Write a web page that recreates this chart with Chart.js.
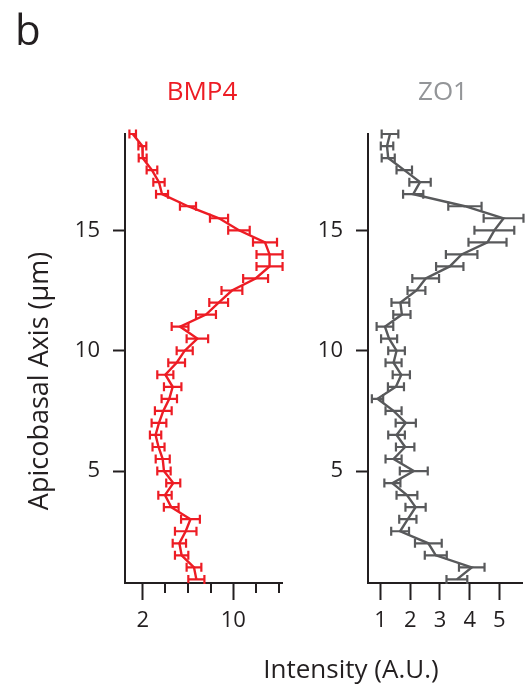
<!DOCTYPE html>
<html><head><meta charset="utf-8">
<script src="https://cdn.jsdelivr.net/npm/chart.js@4/dist/chart.umd.min.js"></script>
<style>
html,body{margin:0;padding:0;background:#fff;width:529px;height:693px;overflow:hidden;font-family:"Open Sans",sans-serif;}
#c1{position:absolute;left:0;top:0;}
#c2{position:absolute;left:300px;top:0;}
.t{position:absolute;line-height:1;white-space:nowrap;color:#231f20;}
</style></head><body>
<canvas id="c1" width="300" height="693"></canvas>
<canvas id="c2" width="229" height="693"></canvas>
<div class="t" style="left:15px;top:8px;font-size:42px;">b</div>
<div class="t" style="left:202px;top:77px;font-size:26px;color:#ED1C24;transform:translateX(-50%);">BMP4</div>
<div class="t" style="left:443px;top:77px;font-size:26px;color:#939598;transform:translateX(-50%);">ZO1</div>
<div class="t" style="left:351px;top:655px;font-size:26px;transform:translateX(-50%);">Intensity (A.U.)</div>
<div class="t" id="ytitle" style="left:37px;top:381px;font-size:27px;transform:translate(-50%,-50%) rotate(-90deg);">Apicobasal Axis (μm)</div>
<script>
// Depth along the apicobasal axis (µm)
const depth = [19.0,18.5,18.0,17.5,17.0,16.5,16.0,15.5,15.0,14.5,14.0,13.5,13.0,12.5,12.0,11.5,11.0,10.5,10.0,9.5,9.0,8.5,8.0,7.5,7.0,6.5,6.0,5.5,5.0,4.5,4.0,3.5,3.0,2.5,2.0,1.5,1.0,0.5];
// BMP4 intensity (A.U.) and error
const bmp4 = [1.12,1.97,2.0,2.82,3.44,3.71,6.0,8.74,10.5,12.8,13.2,13.2,11.97,9.88,8.71,7.59,5.30,6.83,5.71,5.0,4.0,4.65,4.35,3.82,3.44,3.14,3.40,3.77,3.88,4.70,3.97,4.52,6.22,5.80,5.24,5.44,6.53,6.74];
const bmp4Err = [0.29,0.35,0.35,0.47,0.5,0.53,0.71,0.8,0.95,1.06,1.15,1.15,1.1,0.92,0.83,0.88,0.74,0.95,0.71,0.74,0.71,0.77,0.68,0.74,0.65,0.5,0.53,0.62,0.59,0.62,0.59,0.65,0.83,0.95,0.59,0.59,0.65,0.71];
// ZO1 intensity (A.U.) and error
const zo1 = [1.32,1.22,1.26,1.80,2.33,2.10,3.84,5.14,4.83,4.60,3.73,3.33,2.52,2.21,1.67,1.72,1.15,1.29,1.54,1.44,1.70,1.52,0.90,1.44,1.85,1.54,1.83,1.44,2.12,1.40,1.89,2.18,1.92,1.66,2.61,2.86,4.07,3.57];
const zo1Err = [0.28,0.21,0.22,0.26,0.36,0.34,0.56,0.67,0.67,0.64,0.53,0.46,0.45,0.30,0.30,0.29,0.28,0.27,0.28,0.27,0.29,0.27,0.19,0.27,0.34,0.28,0.31,0.27,0.47,0.27,0.35,0.34,0.29,0.30,0.45,0.37,0.43,0.35];
// Tick values
const yTicks = [5,10,15];
const bmpMajorTicks = [2,10];
const bmpMinorTicks = [4,6,8,12,14];
const zoTicks = [1,2,3,4,5];

const AX = '#231F20';
const FONT = "'Open Sans', sans-serif";

const errorBars = {
  id:'errorBars',
  afterDatasetsDraw(chart){
    const ctx=chart.ctx, xs=chart.scales.x, ys=chart.scales.y;
    chart.data.datasets.forEach(ds=>{
      const err=ds.errors; if(!err) return;
      ctx.save(); ctx.strokeStyle=ds.borderColor; ctx.lineWidth=2.2; ctx.lineCap='butt';
      ds.data.forEach((p,i)=>{
        const y=ys.getPixelForValue(p.y);
        const x0=xs.getPixelForValue(p.x-err[i]), x1=xs.getPixelForValue(p.x+err[i]);
        ctx.beginPath();
        ctx.moveTo(x0,y); ctx.lineTo(x1,y);
        ctx.moveTo(x0,y-4.5); ctx.lineTo(x0,y+4.5);
        ctx.moveTo(x1,y-4.5); ctx.lineTo(x1,y+4.5);
        ctx.stroke();
      });
      ctx.restore();
    });
  }
};
const minorTicks = {
  id:'minorTicks',
  afterDraw(chart){
    const m = chart.options.plugins.minorTicks; if(!m || !m.values) return;
    const ctx=chart.ctx, xs=chart.scales.x, b=chart.chartArea.bottom;
    ctx.save(); ctx.strokeStyle=AX; ctx.lineWidth=2;
    m.values.forEach(v=>{
      const x=Math.round(xs.getPixelForValue(v));
      ctx.beginPath(); ctx.moveTo(x,b); ctx.lineTo(x,b+10); ctx.stroke();
    });
    ctx.restore();
  }
};

function panel(id, xs, errs, color, xMin, xMax, majors, labelFn, minors, yW, padR){
  return new Chart(document.getElementById(id), {
    type:'scatter',
    data:{datasets:[{
      data: depth.map((d,i)=>({x:xs[i], y:d})),
      errors: errs,
      showLine:true, borderColor:color, backgroundColor:color,
      borderWidth:2.4, pointRadius:0, clip:false, tension:0
    }]},
    options:{
      responsive:false, animation:false, devicePixelRatio:1,
      layout:{padding:{top:134,right:padR,bottom:60,left:0}},
      plugins:{legend:{display:false},tooltip:{enabled:false},minorTicks:{values:minors}},
      scales:{
        x:{type:'linear',min:xMin,max:xMax,
          afterBuildTicks:s=>{s.ticks=majors.map(v=>({value:v}));},
          afterFit:s=>{s.height=50;},
          ticks:{font:{family:FONT,size:22},color:AX,padding:8,maxRotation:0,autoSkip:false,callback:labelFn},
          grid:{drawOnChartArea:false,drawTicks:true,tickLength:17,tickWidth:2,tickColor:AX},
          border:{display:true,color:AX,width:2}
        },
        y:{type:'linear',min:0.35,max:19.0,
          afterBuildTicks:s=>{s.ticks=yTicks.map(v=>({value:v}));},
          afterFit:s=>{s.width=yW;},
          ticks:{font:{family:FONT,size:22},color:AX,padding:13,autoSkip:false,callback:v=>String(v)},
          grid:{drawOnChartArea:false,drawTicks:true,tickLength:12,tickWidth:2,tickColor:AX},
          border:{display:true,color:AX,width:2}
        }
      }
    },
    plugins:[errorBars, minorTicks]
  });
}

panel('c1', bmp4, bmp4Err, '#ED1C24', 0.44, 14.3, bmpMajorTicks, v=>String(v), bmpMinorTicks, 125, 18);
panel('c2', zo1, zo1Err, '#58595B', 0.58, 5.76, zoTicks, v=>String(v), [], 68, 7);
</script>
</body></html>
